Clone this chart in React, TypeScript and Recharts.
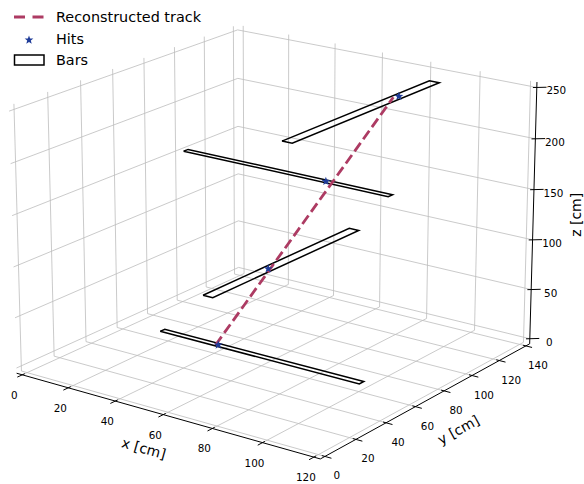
import React from 'react';
import { ScatterChart, Scatter, XAxis, YAxis } from 'recharts';

// ---- data ----
const xLim = [0, 120];
const yLim = [0, 140];
const zLim = [0, 250];
const xTicks = [0, 20, 40, 60, 80, 100, 120];
const yTicks = [0, 20, 40, 60, 80, 100, 120, 140];
const zTicks = [0, 50, 100, 150, 200, 250];

// detector bars (flat strips lying in the x-y plane)
const barAxis = ['x', 'y', 'x', 'y'];      // direction of the long side
const barZ = [10, 90, 170, 250];
const barStart = [21, 24, 14, 27];         // along the long side
const barEnd = [104, 122, 99, 126];
const barCenter = [55, 61, 82, 91];        // y for x-bars, x for y-bars
const barWidth = [3, 4, 3, 4];

// hits
const hitX = [45, 61, 73, 91];
const hitY = [55, 63, 82, 101];
const hitZ = [10, 90, 170, 250];

// reconstructed track end points
const trackX = [44.3, 90.1];
const trackY = [54.3, 98.7];
const trackZ = [10, 250];

// ---- 3D view ----
const W = 584, H = 484;
const VIEW = { elev: 18.8, azim: -54, dist: 10 };
const MAP = { ax: 276.29, bx: 3129.2, ay: 227.92, by: -3130.4 };

const padOf = (l: number[]) => (l[1] - l[0]) / 48;
const X0 = xLim[0] - padOf(xLim), X1 = xLim[1] + padOf(xLim);
const Y0 = yLim[0] - padOf(yLim), Y1 = yLim[1] + padOf(yLim);
const Z0 = zLim[0] - padOf(zLim), Z1 = zLim[1] + padOf(zLim);

const BOX = [8 / 7, 8 / 7, 6 / 7];
function makeProjector(elev: number, azim: number, dist: number) {
  const r = Math.PI / 180;
  const ce = Math.cos(elev * r), se = Math.sin(elev * r), ca = Math.cos(azim * r), sa = Math.sin(azim * r);
  const w = [ce * ca, ce * sa, se], u = [-sa, ca, 0], v = [-se * ca, -se * sa, ce];
  const nx = (x: number) => (x - xLim[0]) / (xLim[1] - xLim[0]) * BOX[0] - BOX[0] / 2;
  const ny = (y: number) => (y - yLim[0]) / (yLim[1] - yLim[0]) * BOX[1] - BOX[1] / 2;
  const nz = (z: number) => (z - zLim[0]) / (zLim[1] - zLim[0]) * BOX[2] - BOX[2] / 2;
  return (x: number, y: number, z: number) => {
    const d = [nx(x), ny(y), nz(z)];
    const den = dist - (w[0] * d[0] + w[1] * d[1] + w[2] * d[2]);
    return [(u[0] * d[0] + u[1] * d[1] + u[2] * d[2]) / den, (v[0] * d[0] + v[1] * d[1] + v[2] * d[2]) / den];
  };
}
const proj = makeProjector(VIEW.elev, VIEW.azim, VIEW.dist);
const pt = (x: number, y: number, z: number, extra: any = {}) => { const [X, Y] = proj(x, y, z); return { X, Y, ...extra }; };
const none = () => <g />;
const pxAngle = (a: number[], b: number[]) => {
  const pa = proj(a[0], a[1], a[2]), pb = proj(b[0], b[1], b[2]);
  return Math.atan2((pb[1] - pa[1]) * MAP.by, (pb[0] - pa[0]) * MAP.bx) * 180 / Math.PI;
};

const FONT = 'DejaVu Sans, sans-serif';
const TRACK = '#ad3b63';
const HIT = '#1f3c99';
const GRID = '#bdbdbd';

function starPath(cx: number, cy: number, R: number, r: number) {
  let d = '';
  for (let i = 0; i < 10; i++) {
    const a = -Math.PI / 2 + i * Math.PI / 5;
    const rr = i % 2 === 0 ? R : r;
    d += (i === 0 ? 'M' : 'L') + (cx + rr * Math.cos(a)).toFixed(2) + ',' + (cy + rr * Math.sin(a)).toFixed(2);
  }
  return d + 'Z';
}

const textShape = (dx: number, dy: number, size: number, rot = 0) => (p: any) => (
  <text x={p.cx + dx} y={p.cy + dy} textAnchor="middle" dominantBaseline="central" fontSize={size} fontFamily={FONT} fill="#000"
    transform={rot ? `rotate(${rot} ${p.cx + dx} ${p.cy + dy})` : undefined}>{p.payload.label}</text>
);

export default function App() {
  const xlo = (0 - MAP.ax) / MAP.bx, xhi = (W - MAP.ax) / MAP.bx;
  const yhi = (0 - MAP.ay) / MAP.by, ylo = (H - MAP.ay) / MAP.by;

  const grid: any[] = [];
  xTicks.forEach(t => grid.push([pt(t, Y0, Z0), pt(t, Y1, Z0), pt(t, Y1, Z1)]));
  yTicks.forEach(t => grid.push([pt(X1, t, Z0), pt(X0, t, Z0), pt(X0, t, Z1)]));
  zTicks.forEach(t => grid.push([pt(X0, Y0, t), pt(X0, Y1, t), pt(X1, Y1, t)]));

  const tickSegs: any[] = [];
  xTicks.forEach(t => tickSegs.push([pt(t, Y0 + 1.5, Z0), pt(t, Y0 - 3, Z0)]));
  yTicks.forEach(t => tickSegs.push([pt(X1 - 1.2, t, Z0), pt(X1 + 2.5, t, Z0)]));
  zTicks.forEach(t => tickSegs.push([pt(X1 - 1, Y1 - 1, t), pt(X1 + 2.5, Y1 + 2.5, t)]));

  const bars = barAxis.map((ax, i) => {
    const h = barWidth[i] / 2, z = barZ[i], a = barStart[i], b = barEnd[i], c = barCenter[i];
    if (ax === 'x') return [pt(a, c - h, z), pt(b, c - h, z), pt(b, c + h, z), pt(a, c + h, z), pt(a, c - h, z)];
    return [pt(c - h, a, z), pt(c - h, b, z), pt(c + h, b, z), pt(c + h, a, z), pt(c - h, a, z)];
  });
  const track = trackX.map((x, i) => pt(x, trackY[i], trackZ[i]));
  const hits = hitX.map((x, i) => pt(x, hitY[i], hitZ[i]));

  const xRot = pxAngle([X0, Y0, Z0], [X1, Y0, Z0]);
  const yRot = pxAngle([X1, Y0, Z0], [X1, Y1, Z0]);

  return (
    <div style={{ position: 'absolute', left: 0, top: 0, width: W, height: H, background: '#fff', fontFamily: FONT }}>
      <ScatterChart width={W} height={H} margin={{ top: 0, right: 0, bottom: 0, left: 0 }}>
        <XAxis type="number" dataKey="X" domain={[xlo, xhi]} hide allowDataOverflow />
        <YAxis type="number" dataKey="Y" domain={[ylo, yhi]} hide allowDataOverflow />
        {grid.map((g, i) => <Scatter key={'g' + i} data={g} fill={GRID} line={{ stroke: GRID, strokeWidth: 0.8 }} shape={none} isAnimationActive={false} />)}
        <Scatter data={[pt(X0, Y0, Z0), pt(X1, Y0, Z0), pt(X1, Y1, Z0), pt(X1, Y1, Z1)]} fill="#000" line={{ stroke: '#000', strokeWidth: 1 }} shape={none} isAnimationActive={false} />
        {tickSegs.map((s, i) => <Scatter key={'t' + i} data={s} fill="#000" line={{ stroke: '#000', strokeWidth: 1 }} shape={none} isAnimationActive={false} />)}
        <Scatter data={xTicks.map(t => pt(t, Y0, Z0, { label: String(t) }))} fill="#000" shape={textShape(-8, 20, 10.4)} isAnimationActive={false} />
        <Scatter data={yTicks.map(t => pt(X1, t, Z0, { label: String(t) }))} fill="#000" shape={textShape(12, 19, 10.4)} isAnimationActive={false} />
        <Scatter data={zTicks.map(t => pt(X1, Y1, t, { label: String(t) }))} fill="#000" shape={textShape(19.5, 3, 10.4)} isAnimationActive={false} />
        <Scatter data={[pt(60, Y0, Z0, { label: 'x [cm]' })]} fill="#000" shape={textShape(-19.4, 33.7, 14, xRot)} isAnimationActive={false} />
        <Scatter data={[pt(X1, 70, Z0, { label: 'y [cm]' })]} fill="#000" shape={textShape(28.5, 31, 14, yRot)} isAnimationActive={false} />
        <Scatter data={[pt(X1, Y1, 125, { label: 'z [cm]' })]} fill="#000" shape={textShape(42.5, 0, 14, -90)} isAnimationActive={false} />
        {bars.map((b, i) => <Scatter key={'b' + i} data={b} fill="#000" line={{ stroke: '#000', strokeWidth: 1.5 }} shape={none} isAnimationActive={false} />)}
        <Scatter data={track} fill={TRACK} line={{ stroke: TRACK, strokeWidth: 2.8, strokeDasharray: '10.4 4.5' }} shape={none} isAnimationActive={false} />
        <Scatter data={hits} fill={HIT} shape={(p: any) => <path d={starPath(p.cx, p.cy, 4.6, 1.9)} fill={HIT} />} isAnimationActive={false} />
      </ScatterChart>
      <svg width={240} height={75} style={{ position: 'absolute', left: 0, top: 0 }}>
        <line x1={14} y1={17} x2={43.5} y2={17} stroke={TRACK} strokeWidth={2.8} strokeDasharray="11 7.5" />
        <path d={starPath(29, 40, 4.6, 1.9)} fill={HIT} />
        <rect x={14.5} y={55} width={29.5} height={10} fill="#fff" stroke="#000" strokeWidth={1.5} />
        <text x={56} y={17} dominantBaseline="central" fontSize={14.4} fontFamily={FONT}>Reconstructed track</text>
        <text x={56} y={39} dominantBaseline="central" fontSize={14.4} fontFamily={FONT}>Hits</text>
        <text x={56} y={60} dominantBaseline="central" fontSize={14.4} fontFamily={FONT}>Bars</text>
      </svg>
    </div>
  );
}
